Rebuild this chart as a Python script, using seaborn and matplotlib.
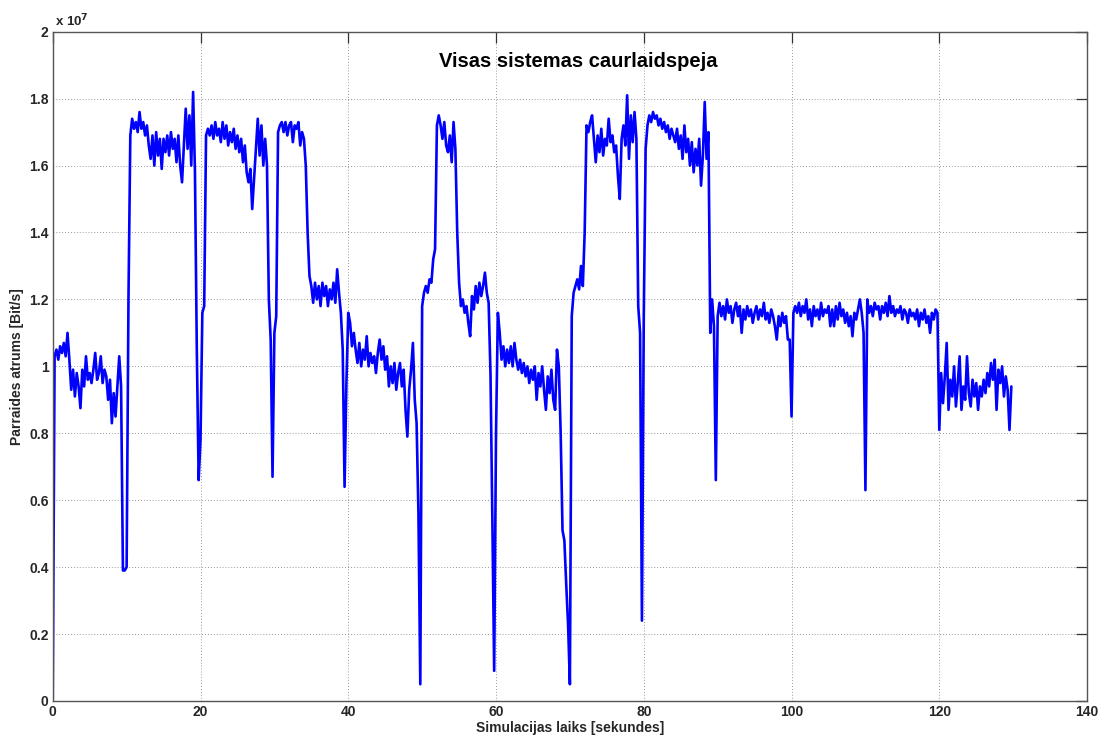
import numpy as np
import pandas as pd
import matplotlib
matplotlib.use("Agg")
import matplotlib.pyplot as plt
import seaborn as sns
from matplotlib.ticker import FuncFormatter

# ---- data -------------------------------------------------------------
sample_period_s = 0.25          # one reading every 0.25 s, starting at t = 0
rate_mbit_s = [
    # 0 - 5 s
    0.0, 10.3, 10.5, 10.2, 10.6, 10.4, 10.7, 10.3, 11.0, 10.2,
    9.3, 9.9, 9.1, 9.8, 9.4, 8.75, 9.9, 9.4, 10.3, 9.6,
    # 5 - 10 s
    9.8, 9.5, 9.9, 10.4, 9.6, 9.8, 10.3, 9.5, 9.9, 9.7,
    9.0, 9.6, 8.3, 9.2, 8.5, 9.4, 10.3, 9.4, 3.9, 3.9,
    # 10 - 15 s
    4.0, 12.0, 16.9, 17.4, 17.1, 17.3, 17.0, 17.6, 17.1, 17.3,
    16.9, 17.2, 16.6, 16.2, 16.9, 16.0, 17.0, 16.3, 16.8, 15.9,
    # 15 - 20 s
    16.8, 16.4, 16.9, 16.3, 17.0, 16.5, 16.8, 16.1, 16.9, 16.0,
    15.5, 16.6, 17.7, 16.5, 17.5, 16.0, 18.2, 15.8, 10.5, 6.6,
    # 20 - 25 s
    7.8, 11.6, 11.8, 16.9, 17.1, 16.9, 17.2, 16.8, 17.3, 16.9,
    17.1, 16.7, 17.3, 16.8, 17.2, 16.6, 17.0, 16.7, 17.1, 16.5,
    # 25 - 30 s
    16.9, 16.4, 16.8, 16.1, 16.6, 15.8, 15.5, 15.9, 14.7, 15.6,
    16.5, 17.4, 16.3, 17.2, 16.0, 16.8, 16.0, 12.0, 10.8, 6.7,
    # 30 - 35 s
    11.0, 11.5, 17.0, 17.2, 17.3, 17.0, 17.3, 16.9, 17.2, 17.3,
    16.7, 17.2, 17.1, 17.3, 16.6, 17.0, 16.8, 16.0, 14.0, 12.7,
    # 35 - 40 s
    12.4, 11.9, 12.5, 12.0, 12.4, 11.8, 12.5, 12.1, 12.4, 11.8,
    12.3, 12.0, 12.5, 11.9, 12.9, 12.2, 11.6, 10.5, 6.4, 9.5,
    # 40 - 45 s
    11.6, 11.3, 10.6, 11.0, 10.5, 10.1, 10.7, 10.0, 10.5, 10.2,
    10.9, 10.0, 10.4, 10.1, 10.3, 9.8, 10.4, 10.8, 10.2, 10.6,
    # 45 - 50 s
    9.9, 10.3, 9.4, 10.0, 9.5, 10.1, 9.3, 9.8, 10.1, 9.4,
    9.9, 8.7, 7.9, 9.3, 9.9, 10.7, 9.0, 8.3, 5.6, 0.5,
    # 50 - 55 s
    11.8, 12.2, 12.4, 12.2, 12.6, 12.5, 13.2, 13.5, 17.2, 17.5,
    17.2, 16.8, 17.3, 16.6, 16.4, 16.9, 16.1, 17.3, 16.5, 14.0,
    # 55 - 60 s
    12.5, 11.8, 12.0, 11.6, 11.8, 11.3, 10.9, 12.1, 11.7, 12.4,
    11.9, 12.5, 12.1, 12.4, 12.8, 12.2, 11.9, 9.8, 5.5, 0.9,
    # 60 - 65 s
    8.0, 11.6, 11.0, 10.2, 10.6, 10.0, 10.5, 10.1, 10.6, 10.0,
    10.7, 10.2, 9.9, 10.2, 9.8, 10.1, 9.7, 10.0, 9.5, 9.9,
    # 65 - 70 s
    9.6, 10.0, 9.0, 9.8, 9.4, 10.0, 9.3, 8.7, 9.7, 9.2,
    9.9, 9.0, 8.7, 10.5, 10.0, 8.0, 5.1, 4.8, 3.5, 2.3,
    # 70 - 75 s
    0.5, 11.5, 12.2, 12.4, 12.6, 12.3, 13.0, 12.4, 14.0, 17.2,
    17.0, 17.3, 17.5, 16.8, 16.1, 16.9, 16.4, 17.1, 16.3, 16.8,
    # 75 - 80 s
    16.6, 17.4, 16.7, 16.9, 16.4, 16.6, 15.7, 15.0, 16.8, 17.2,
    16.6, 18.1, 16.2, 17.5, 16.7, 17.6, 16.8, 11.8, 11.0, 2.4,
    # 80 - 85 s
    11.5, 16.5, 17.2, 17.5, 17.3, 17.6, 17.4, 17.5, 17.2, 17.4,
    17.1, 17.3, 17.0, 17.2, 16.8, 17.1, 16.9, 16.7, 17.1, 16.5,
    # 85 - 90 s
    16.9, 16.2, 17.2, 16.4, 16.8, 16.0, 16.7, 15.8, 16.5, 16.0,
    16.8, 15.4, 16.3, 17.9, 16.2, 17.0, 11.0, 12.0, 11.2, 6.6,
    # 90 - 95 s
    11.5, 11.9, 11.5, 11.8, 11.4, 12.0, 11.6, 11.8, 11.3, 11.7,
    11.9, 11.5, 11.8, 11.0, 11.7, 11.4, 11.8, 11.5, 11.7, 11.3,
    # 95 - 100 s
    11.6, 11.8, 11.4, 11.7, 11.5, 11.9, 11.4, 11.6, 11.3, 11.7,
    11.5, 11.2, 10.8, 11.5, 11.2, 11.6, 11.3, 11.5, 10.8, 10.8,
    # 100 - 105 s
    8.5, 11.6, 11.8, 11.6, 11.9, 11.5, 11.8, 11.6, 12.0, 11.4,
    11.7, 11.2, 11.8, 11.5, 11.7, 11.4, 11.9, 11.5, 11.7, 11.6,
    # 105 - 110 s
    11.8, 11.2, 11.7, 11.2, 11.8, 11.4, 11.9, 11.5, 11.7, 11.3,
    11.6, 11.2, 11.5, 10.9, 11.6, 11.4, 11.7, 12.0, 11.6, 11.0,
    # 110 - 115 s
    6.3, 12.0, 11.6, 11.8, 11.5, 11.9, 11.7, 11.8, 11.4, 11.8,
    11.6, 11.9, 11.5, 12.1, 11.6, 11.8, 11.5, 11.7, 11.6, 11.8,
    # 115 - 120 s
    11.4, 11.7, 11.6, 11.3, 11.7, 11.5, 11.6, 11.4, 11.7, 11.2,
    11.6, 11.4, 11.7, 11.3, 11.5, 11.0, 11.6, 11.4, 11.7, 11.6,
    # 120 - 125 s
    8.1, 9.8, 8.9, 9.7, 10.7, 8.7, 9.6, 9.1, 10.0, 8.8,
    9.5, 10.3, 8.7, 9.4, 9.0, 10.3, 9.2, 8.8, 9.6, 9.1,
    # 125 - 130 s
    9.5, 8.7, 9.4, 9.1, 9.6, 9.2, 9.8, 9.4, 10.1, 9.6,
    10.2, 8.7, 9.9, 9.5, 10.0, 9.1, 9.7, 9.3, 8.1, 9.4,
]

x_ticks = [0, 20, 40, 60, 80, 100, 120, 140]
y_ticks = [0, 0.2, 0.4, 0.6, 0.8, 1.0, 1.2, 1.4, 1.6, 1.8, 2.0]   # x 1e7
title_text = "Visas sistemas caurlaidspeja"
xlabel_text = "Simulacijas laiks [sekundes]"
ylabel_text = "Parraides atrums [Bit/s]"

time_s = np.arange(len(rate_mbit_s)) * sample_period_s
df = pd.DataFrame({"t": time_s, "rate": np.array(rate_mbit_s) * 1e6})

# ---- style ------------------------------------------------------------
sns.set_theme(style="white")
plt.rcParams["font.family"] = ["Liberation Sans", "DejaVu Sans"]
plt.rcParams["font.weight"] = "bold"

fig = plt.figure(figsize=(11.08, 7.36), dpi=100, facecolor="white")
ax = fig.add_axes([0.0476, 0.0476, 0.9335, 0.9093])
ax.set_facecolor("white")

sns.lineplot(data=df, x="t", y="rate", ax=ax, color="#0000ff",
             linewidth=1.9, estimator=None, sort=False)

ax.set_xlim(0, 140)
ax.set_ylim(0, 2e7)
ax.set_xticks(x_ticks)
ax.set_yticks([v * 1e7 for v in y_ticks])
ax.yaxis.set_major_formatter(FuncFormatter(lambda v, p: f"{v / 1e7:g}"))

ax.grid(True, linestyle=(0, (1, 2.5)), color="#777777", linewidth=0.6)
for s in ax.spines.values():
    s.set_color("#555555")
    s.set_linewidth(1.0)

ax.tick_params(axis="both", which="major", direction="in", length=8,
               width=0.9, color="#333333", top=True, right=True,
               labelsize=10, pad=3)
for lab in ax.get_xticklabels() + ax.get_yticklabels():
    lab.set_fontweight("bold")

ax.set_xlabel(xlabel_text, fontsize=10, fontweight="bold", labelpad=1)
ax.set_ylabel(ylabel_text, fontsize=10, fontweight="bold", labelpad=4)

ax.text(0.508, 0.956, title_text, transform=ax.transAxes, ha="center",
        va="center", fontsize=14.5, fontweight="bold", color="black")
ax.text(0.002, 1.004, r"x 10$^{\mathbf{7}}$", transform=ax.transAxes,
        ha="left", va="bottom", fontsize=9.5, fontweight="bold")

fig.savefig("out.png", dpi=100, facecolor="white")
